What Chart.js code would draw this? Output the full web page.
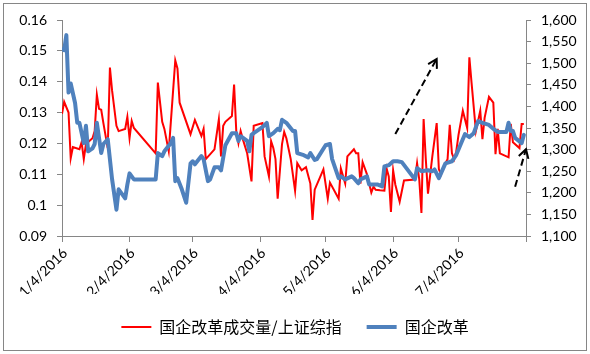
<!DOCTYPE html>
<html><head><meta charset="utf-8">
<script src="https://cdn.jsdelivr.net/npm/chart.js@4/dist/chart.umd.min.js"></script>
<style>html,body{margin:0;padding:0;background:#fff}</style>
</head><body>
<canvas id="c" width="590" height="354"></canvas>
<script>
// Series 1: 国企改革成交量/上证综指 (left axis)
const ratioDates = ["1/4","1/5","1/7","1/8","1/9","1/12","1/13","1/14","1/15","1/18","1/19","1/20","1/21","1/22","1/23","1/25","1/26","1/27","1/29","1/30",
"2/2","2/3","2/4","2/5","2/6","2/16","2/17","2/19","2/20","2/22","2/25","2/26","2/27",
"3/3","3/5","3/8","3/9","3/10","3/14","3/16","3/17","3/18","3/19","3/22","3/23","3/24","3/25","3/26","3/27","3/29","3/31",
"4/1","4/5","4/6","4/8","4/9","4/10","4/11","4/12","4/14","4/15","4/16","4/18","4/20","4/21","4/23","4/25","4/27","4/28","4/29",
"5/3","5/5","5/6","5/10","5/11","5/13","5/14","5/17","5/18","5/19","5/20","5/21","5/23","5/25","5/26","5/27","5/29","5/31",
"6/1","6/2","6/3","6/4","6/5","6/7","6/9","6/14","6/15","6/16","6/17","6/18","6/19","6/20","6/22","6/24","6/25","6/26","6/28","6/29","6/30",
"7/1","7/2","7/3","7/4","7/6","7/8","7/9","7/10","7/12","7/14","7/15","7/16","7/18","7/20","7/21","7/22","7/23","7/27","7/28","7/29",
"8/1","8/2","8/3"];
const ratioValues = [0.1296,0.1335,0.130,0.1152,0.1188,0.1181,0.1204,0.1149,0.1198,0.1217,0.124,0.1358,0.1312,0.1309,0.1266,0.1185,0.1446,0.1371,0.1257,0.124,
0.1247,0.1286,0.1217,0.1273,0.125,0.1168,0.1397,0.127,0.1247,0.1175,0.1469,0.1443,0.1332,
0.123,0.1276,0.1224,0.1247,0.1149,0.1181,0.1278,0.1158,0.1257,0.127,0.1289,0.1391,0.124,0.1201,0.124,0.1214,0.1168,0.1077,
0.1257,0.1266,0.1158,0.1093,0.1207,0.1185,0.1149,0.1021,0.1198,0.1237,0.1217,0.1149,0.1047,0.1136,0.1113,0.1123,0.107,0.0952,0.105,
0.1116,0.1021,0.1073,0.1021,0.1119,0.107,0.1158,0.1181,0.1168,0.1168,0.107,0.1139,0.110,0.1041,0.106,0.105,0.1048,0.1047,
0.1119,0.1093,0.0978,0.1113,0.1067,0.1011,0.108,0.1083,0.1136,0.1083,0.0975,0.1279,0.1149,0.1037,0.1158,0.1266,0.1116,0.110,0.1136,0.1149,0.126,
0.1168,0.1149,0.1175,0.1227,0.1306,0.125,0.1479,0.1397,0.124,0.1306,0.1214,0.1283,0.1351,0.1332,0.1165,0.1247,0.1168,0.1155,0.1263,0.1204,
0.1185,0.1263,0.1263];

// Series 2: 国企改革 index (right axis)
const indexDates = ["1/4","1/5","1/6","1/7","1/8","1/10","1/11","1/12","1/14","1/15","1/16","1/18","1/19","1/20","1/22","1/23","1/25","1/27","1/29","1/30",
"2/2","2/3","2/4","2/6","2/16","2/17","2/19","2/20","2/23","2/24","2/25","2/26","2/28",
"3/1","3/3","3/4","3/5","3/8","3/9","3/11","3/12","3/14","3/16","3/17","3/19","3/22","3/24","3/25","3/26","3/29","3/30","3/31",
"4/1","4/5","4/7","4/8","4/10","4/12","4/13","4/14","4/16","4/19","4/20","4/21","4/24","4/26","4/27","4/29","4/30",
"5/4","5/6","5/7","5/10","5/11","5/13","5/16","5/17","5/19","5/20","5/23","5/24","5/28","5/30","5/31",
"6/2","6/4","6/6","6/8","6/14","6/15","6/17","6/20","6/22","6/23","6/25","6/28",
"7/1","7/3","7/7","7/9","7/11","7/13","7/15","7/18","7/20","7/22","7/26","7/27","7/28","7/29","7/30",
"8/2","8/3"];
const indexValues = [1532,1530,1565,1432,1453,1408,1362,1362,1315,1355,1296,1303,1313,1362,1292,1313,1324,1231,1161,1208,
1187,1219,1245,1231,1231,1292,1285,1296,1315,1327,1227,1234,1208,
1177,1268,1273,1266,1285,1278,1227,1231,1259,1259,1252,1310,1338,1338,1320,1331,1320,1296,1334,
1338,1352,1362,1331,1338,1348,1345,1369,1362,1343,1343,1292,1287,1282,1292,1276,1278,
1310,1313,1278,1234,1238,1231,1238,1234,1222,1231,1238,1219,1219,1215,1261,
1264,1273,1273,1271,1231,1257,1250,1252,1250,1254,1234,1268,
1273,1288,1336,1329,1338,1366,1362,1357,1348,1341,1341,1362,1343,1343,1327,
1315,1334];

const seriesNames = ["国企改革成交量/上证综指", "国企改革"];
const xTickDates = ["1/4","2/4","3/4","4/4","5/4","6/4","7/4","8/4"];
const xTickLabels = ["1/4/2016","2/4/2016","3/4/2016","4/4/2016","5/4/2016","6/4/2016","7/4/2016",""];
const leftTicks = [0.09,0.10,0.11,0.12,0.13,0.14,0.15,0.16];
const leftTickLabels = ["0.09","0.1","0.11","0.12","0.13","0.14","0.15","0.16"];
const rightTicks = [1100,1150,1200,1250,1300,1350,1400,1450,1500,1550,1600];
const rightTickLabels = ["1,100","1,150","1,200","1,250","1,300","1,350","1,400","1,450","1,500","1,550","1,600"];
// dashed trend arrows, in (date, right-axis value)
const arrowStarts = [["6/5",1336],["7/30",1214]];
const arrowEnds = [["6/24",1510],["8/4",1301]];

const BASE = Date.UTC(2016,0,4);
function dayOf(s){ const [m,d]=s.split("/").map(Number); return (Date.UTC(2016,m-1,d)-BASE)/86400000; }
const xTickDays = xTickDates.map(dayOf);

const axisColor = "#868686";
const tickFont = {family:"Lato", size:14};

const framePlugin = {
  id:"frame",
  beforeDraw(chart){
    const c=chart.ctx; c.save(); c.fillStyle="#fff"; c.fillRect(0,0,chart.width,chart.height);
    c.strokeStyle=axisColor; c.lineWidth=1; c.strokeRect(3.5,3.5,chart.width-7,chart.height-7); c.restore();
  },
  afterDatasetsDraw(chart){
    const c=chart.ctx, xs=chart.scales.x, ys=chart.scales.y1;
    c.save(); c.strokeStyle="#000"; c.lineWidth=2;
    arrowStarts.forEach((s,i)=>{
      const e=arrowEnds[i];
      const x0=xs.getPixelForValue(dayOf(s[0])), y0=ys.getPixelForValue(s[1]);
      const x1=xs.getPixelForValue(dayOf(e[0])), y1=ys.getPixelForValue(e[1]);
      c.setLineDash([7,4]); c.beginPath(); c.moveTo(x0,y0); c.lineTo(x1,y1); c.stroke();
      c.setLineDash([]);
      const a=Math.atan2(y0-y1,x0-x1), L=10, w=Math.PI/6;
      c.beginPath();
      c.moveTo(x1+L*Math.cos(a-w), y1+L*Math.sin(a-w));
      c.lineTo(x1,y1);
      c.lineTo(x1+L*Math.cos(a+w), y1+L*Math.sin(a+w));
      c.stroke();
    });
    c.restore();
  }
};

new Chart(document.getElementById("c"), {
  type:"line",
  data:{datasets:[
    {label:seriesNames[0], data:ratioDates.map((d,i)=>({x:dayOf(d), y:ratioValues[i]})), yAxisID:"y",
     borderColor:"#FF0000", backgroundColor:"#FF0000", borderWidth:2, pointRadius:0, tension:0, order:1},
    {label:seriesNames[1], data:indexDates.map((d,i)=>({x:dayOf(d), y:indexValues[i]})), yAxisID:"y1",
     borderColor:"#4F81BD", backgroundColor:"#4F81BD", borderWidth:4, pointRadius:0, tension:0, order:0,
     borderJoinStyle:"round", borderCapStyle:"round"}
  ]},
  options:{
    responsive:false, animation:false, devicePixelRatio:1,
    layout:{padding:{top:20,left:0,right:0,bottom:9}},
    scales:{
      x:{type:"linear", min:0, max:213,
        afterBuildTicks:s=>{ s.ticks = xTickDays.map(v=>({value:v})); },
        afterFit:s=>{ s.height=58; },
        ticks:{autoSkip:false, minRotation:45, maxRotation:45, padding:3, labelOffset:3, color:"#000", font:tickFont,
          callback:(v,i)=>xTickLabels[i]},
        grid:{drawOnChartArea:false, drawTicks:true, tickLength:6, color:axisColor},
        border:{display:true, color:axisColor}},
      y:{position:"left", min:0.09, max:0.16,
        afterBuildTicks:s=>{ s.ticks = leftTicks.map(v=>({value:v})); },
        afterFit:s=>{ s.width=62; },
        ticks:{padding:10, color:"#000", font:tickFont, callback:(v,i)=>leftTickLabels[i]},
        grid:{drawOnChartArea:false, drawTicks:true, tickLength:5, color:axisColor},
        border:{display:true, color:axisColor}},
      y1:{position:"right", min:1100, max:1600,
        afterBuildTicks:s=>{ s.ticks = rightTicks.map(v=>({value:v})); },
        afterFit:s=>{ s.width=64; },
        ticks:{padding:10, color:"#000", font:tickFont, callback:(v,i)=>rightTickLabels[i]},
        grid:{drawOnChartArea:false, drawTicks:true, tickLength:5, color:axisColor},
        border:{display:true, color:axisColor}}
    },
    plugins:{
      tooltip:{enabled:false},
      legend:{position:"bottom",
        labels:{usePointStyle:true, pointStyle:"line", pointStyleWidth:30, padding:25, color:"#000",
          font:{family:"'Noto Sans CJK SC'", size:16},
          sort:(a,b)=>a.datasetIndex-b.datasetIndex}}
    }
  },
  plugins:[framePlugin]
});
</script>
</body></html>
